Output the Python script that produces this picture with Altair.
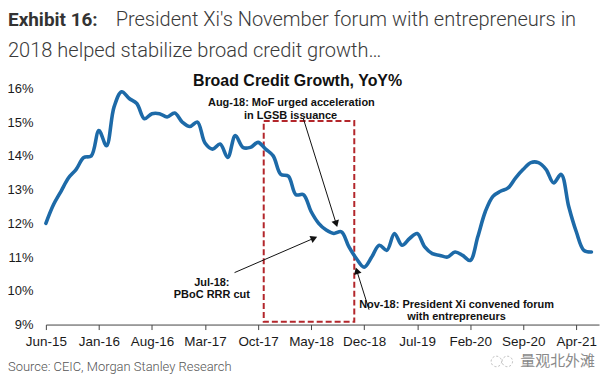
import math
import altair as alt
import pandas as pd

# ---------------- data ----------------
months = [p.strftime("%b-%y") for p in pd.period_range("2015-06", periods=73, freq="M")]
credit_growth = [
    12.0, 12.55, 12.95, 13.35, 13.6, 13.95, 14.0, 14.75, 14.3, 15.45,
    15.9, 15.7, 15.55, 15.1, 15.25, 15.25, 15.15, 15.27, 15.0, 14.87,
    15.0, 14.38, 14.2, 14.35, 13.95, 14.6, 14.25, 14.25, 14.4, 14.2,
    14.0, 13.45, 13.4, 12.85, 12.85, 12.35, 12.0, 11.8, 11.7, 11.75,
    11.3, 10.95, 10.7, 11.0, 11.35, 11.2, 11.7, 11.35, 11.55, 11.7,
    11.3, 11.1, 11.05, 11.0, 11.15, 11.05, 10.9, 11.6, 12.35, 12.8,
    12.95, 13.05, 13.35, 13.6, 13.8, 13.8, 13.6, 13.2, 13.45, 12.5,
    11.75, 11.2, 11.15,
]
tick_labels = ["Jun-15", "Jan-16", "Aug-16", "Mar-17", "Oct-17", "May-18",
               "Dec-18", "Jul-19", "Feb-20", "Sep-20", "Apr-21"]
y_ticks = [9, 10, 11, 12, 13, 14, 15, 16]

# annotation texts (x in month index, y in %)
ann_text = ["Aug-18: MoF urged acceleration", "in LGSB issuance",
            "Jul-18:", "PBoC RRR cut",
            "Nov-18: President Xi convened forum", "with entrepreneurs"]
ann_x = [32.4, 32.3, 21.9, 21.9, 54.2, 54.2]
ann_y = [15.48, 15.105, 10.13, 9.80, 9.49, 9.15]

# arrows: start -> tip (month index, %)
arrow_x0 = [33.97, 24.9, 42.65]
arrow_y0 = [15.11, 10.54, 9.44]
arrow_x1 = [38.45, 35.8, 40.9]
arrow_y1 = [11.89, 11.6, 10.69]

# highlighted window
box_x = [28.75]
box_x2 = [40.7]
box_y = [9.08]
box_y2 = [15.03]

# ---------------- layout ----------------
W, H = 555, 237
XMAX = 73
YMIN, YMAX = 9, 16

df = pd.DataFrame({"m": list(range(len(credit_growth))), "month": months, "v": credit_growth})

xscale = alt.Scale(domain=[0, XMAX], nice=False, zero=False)
yscale = alt.Scale(domain=[YMIN, YMAX], nice=False, zero=False)

label_arr = "[" + ",".join("'%s'" % t for t in tick_labels) + "]"
xaxis = alt.Axis(values=[7 * i for i in range(len(tick_labels))],
                 labelExpr=label_arr + "[round(datum.value/7)]",
                 grid=False, domainColor="#444", tickColor="#444", tickSize=5,
                 labelFont="Liberation Sans", labelFontSize=13.5, labelColor="#1a1a1a",
                 labelPadding=5, labelOverlap=False, labelFlush=False, title=None)
yaxis = alt.Axis(values=y_ticks, labelExpr="datum.value + '%'", grid=False,
                 domain=False, ticks=False, labelFont="Liberation Sans",
                 labelFontSize=13, labelColor="#1a1a1a", labelPadding=13, title=None)


def X(f):
    return alt.X(f, type="quantitative", scale=xscale, axis=xaxis, title=None)


def Y(f):
    return alt.Y(f, type="quantitative", scale=yscale, axis=yaxis, title=None)


line = alt.Chart(df).mark_line(color="#1d6aa8", strokeWidth=3.6, interpolate="catmull-rom",
                               strokeCap="round", strokeJoin="round").encode(
    x=X("m"), y=Y("v"))

box = alt.Chart(pd.DataFrame({"x": box_x, "x2": box_x2, "y": box_y, "y2": box_y2})).mark_rect(
    fillOpacity=0, stroke="#b3262b", strokeWidth=2, strokeDash=[6, 3]).encode(
    x=X("x"), x2="x2", y=Y("y"), y2="y2")

# arrow geometry (heads rotated to follow each arrow)
def px(i):
    return i * W / XMAX


def py(v):
    return (YMAX - v) * H / (YMAX - YMIN)


head_size = 60
h = math.sqrt(3) / 2 * math.sqrt(head_size) / 2
rows = []
for x0, y0, x1, y1 in zip(arrow_x0, arrow_y0, arrow_x1, arrow_y1):
    dx, dy = px(x1) - px(x0), py(y1) - py(y0)
    L = math.hypot(dx, dy)
    ux, uy = dx / L, dy / L
    cx, cy = px(x1) - ux * h, py(y1) - uy * h
    ang = math.degrees(math.atan2(dx, -dy)) % 360
    rows.append({"x0": x0, "y0": y0,
                 "hx": cx * XMAX / W, "hy": YMAX - cy * (YMAX - YMIN) / H, "ang": ang})
adf = pd.DataFrame(rows)

rules = alt.Chart(adf).mark_rule(color="#111", strokeWidth=1).encode(
    x=X("x0"), y=Y("y0"), x2="hx", y2="hy")
heads = alt.Chart(adf).mark_point(shape="triangle-up", filled=True, color="#111",
                                  size=head_size, opacity=1).encode(
    x=X("hx"), y=Y("hy"), angle=alt.Angle("ang:Q", scale=None))

ann = alt.Chart(pd.DataFrame({"x": ann_x, "y": ann_y, "t": ann_text})).mark_text(
    font="Liberation Sans", fontWeight="bold", fontSize=11, color="#111",
    align="center", baseline="alphabetic").encode(x=X("x"), y=Y("y"), text="t:N")

one = pd.DataFrame({"k": [0]})


def label(text, x, y, **kw):
    return alt.Chart(one).mark_text(text=text, align="left", baseline="alphabetic", **kw).encode(
        x=alt.value(x), y=alt.value(y))


# small watermark icon (two dotted rings)
icon = alt.Chart(pd.DataFrame({"k": [0, 1]})).mark_point(
    shape="circle", filled=False, color="#9a9a9a", strokeWidth=1, strokeDash=[2, 2]).encode(
    x=alt.X("k:Q", scale=alt.Scale(domain=[0, 1], range=[452, 463]), axis=None),
    y=alt.value(274), size=alt.value(110))

title_parts = [
    label("Exhibit 16:", -38, -63, font="Roboto", fontSize=19, fontWeight="bold", color="#333"),
    label("President Xi's November forum with entrepreneurs in", 70, -63,
          font="Roboto", fontSize=20.1, fontWeight=300, color="#3a3a3a"),
    label("2018 helped stabilize broad credit growth\u2026", -38, -31.5,
          font="Roboto", fontSize=20.1, fontWeight=300, color="#3a3a3a"),
    alt.Chart(one).mark_text(text="Broad Credit Growth, YoY%", align="center",
                             baseline="alphabetic", font="Liberation Sans", fontSize=16,
                             fontWeight="bold", color="#111").encode(
        x=alt.value(252.5), y=alt.value(-2.3)),
    label("Source: CEIC, Morgan Stanley Research", -38, 284, font="Roboto", fontSize=13,
          fontWeight=300, color="#555"),
    alt.Chart(one).mark_text(text="量观北外滩", align="left", baseline="middle",
                             font="Noto Sans CJK SC", fontSize=15, color="#8a8a8a").encode(
        x=alt.value(476), y=alt.value(274)),
]

main = alt.layer(box, line, rules, heads, ann, *title_parts)
chart = alt.layer(main, icon).resolve_scale(x="independent").properties(
    width=W, height=H,
    autosize=alt.AutoSizeParams(type="none"),
    padding={"left": 38, "top": 80, "right": 8, "bottom": 55},
    background="white",
).configure_view(strokeWidth=0)

chart.save("out.html", embed_options={"renderer": "svg", "actions": False})
